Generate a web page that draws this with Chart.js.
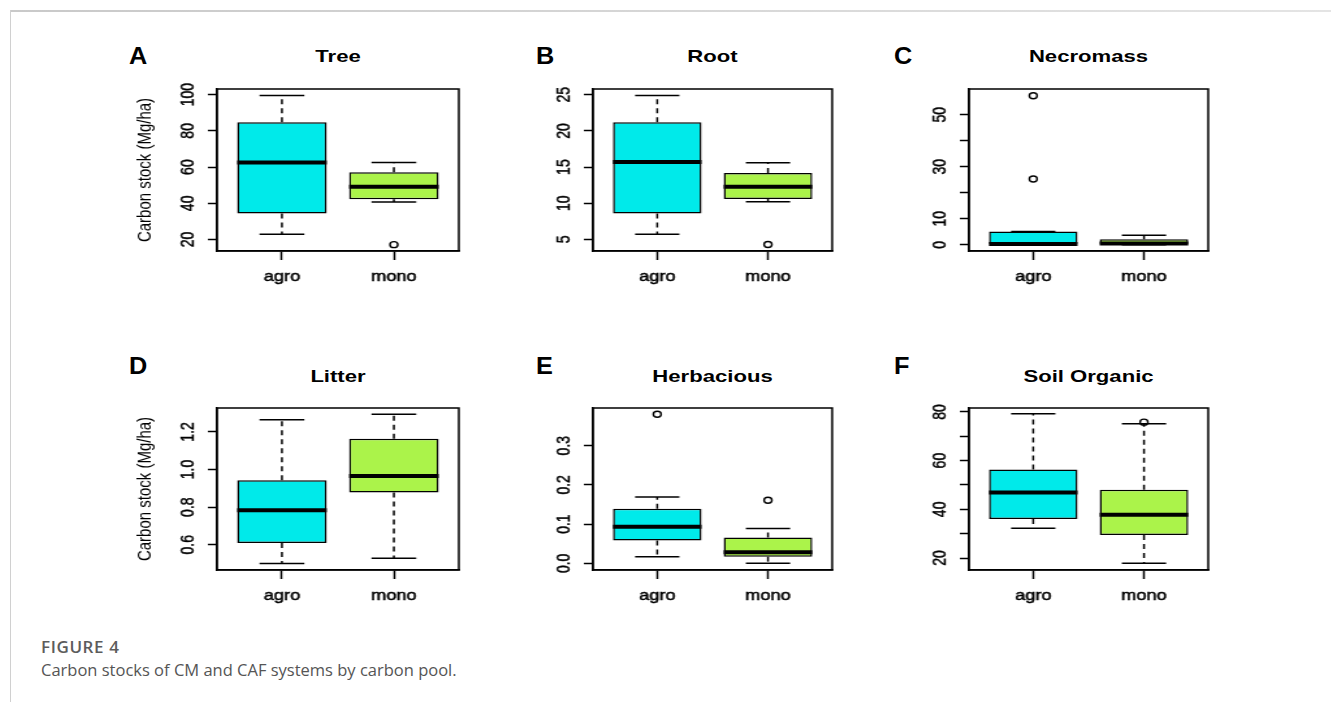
<!DOCTYPE html>
<html>
<head>
<meta charset="utf-8">
<script src="https://cdn.jsdelivr.net/npm/chart.js@4.4.1/dist/chart.umd.min.js"></script>
<style>
  body { margin: 0; background: #fff; width: 1331px; height: 702px; overflow: hidden; position: relative;
         font-family: "Liberation Sans", Arial, sans-serif; color: #000; }
  .frame-top { position: absolute; left: 10px; top: 10px; right: 0; height: 2px;
               background: linear-gradient(to right, #c9c9c9, #e4e4e4); }
  .frame-left { position: absolute; left: 10px; top: 10px; bottom: 0; width: 1px; background: #d0d0d0; }
  .panel { position: absolute; transform: scaleX(1.3); transform-origin: 0 0; }
  .title { position: absolute; text-align: center; font-weight: bold; font-size: 17px; line-height: 20px;
           transform: scaleX(1.3); }
  .letter { position: absolute; font-weight: bold; font-size: 23px; line-height: 22px;
            transform: scaleX(1.1); transform-origin: 0 0; }
  .cap-head { position: absolute; left: 41px; top: 635px; font-family: "Open Sans", sans-serif; font-weight: 600;
              font-size: 17px; letter-spacing: 0.6px; color: #5c5c5c; }
  .cap-text { position: absolute; left: 41px; top: 658px; font-family: "Open Sans", sans-serif;
              font-size: 16.5px; color: #555; }
</style>
</head>
<body>
<div class="frame-top"></div>
<div class="frame-left"></div>
<div class="cap-head">FIGURE 4</div>
<div class="cap-text">Carbon stocks of CM and CAF systems by carbon pool.</div>

<script>
const groups = ["agro", "mono"];
const letters = ["A", "B", "C", "D", "E", "F"];
const titles = ["Tree", "Root", "Necromass", "Litter", "Herbacious", "Soil Organic"];

// boxplot stats per panel: [agro, mono]
const whiskerLow = [[22.9, 40.7], [5.7, 10.2], [0, 0], [0.501, 0.529], [0.017, 0.0], [32.2, 17.9]];
const q1 = [[34.4, 42.3], [8.6, 10.6], [0, 0], [0.609, 0.878], [0.058, 0.017], [36.0, 29.5]];
const medians = [[62.5, 49.2], [15.7, 12.3], [0.3, 0.5], [0.784, 0.965], [0.093, 0.028], [46.9, 37.8]];
const q3 = [[84.8, 57.1], [21.2, 14.2], [5.1, 2.1], [0.943, 1.163], [0.139, 0.066], [56.4, 48.0]];
const whiskerHigh = [[99.5, 62.5], [24.9, 15.6], [5.1, 3.7], [1.264, 1.294], [0.169, 0.089], [79.2, 75.1]];
const outliers = [[[], [17.2]], [[], [4.3]], [[25.3, 57.3], []], [[], []], [[0.38], [0.161]], [[], [75.8]]];

const yMin = [13.7, 3.4, -2.4, 0.466, -0.017, 15.1];
const yMax = [103.1, 25.8, 59.9, 1.327, 0.396, 81.6];
const yTicks = [
  [20, 40, 60, 80, 100],
  [5, 10, 15, 20, 25],
  [0, 10, 20, 30, 40, 50],
  [0.6, 0.8, 1.0, 1.2],
  [0, 0.1, 0.2, 0.3],
  [20, 30, 40, 50, 60, 70, 80],
];
const yTickLabels = [
  ["20", "40", "60", "80", "100"],
  ["5", "10", "15", "20", "25"],
  ["0", "10", "", "30", "", "50"],
  ["0.6", "0.8", "1.0", "1.2"],
  ["0.0", "0.1", "0.2", "0.3"],
  ["20", "", "40", "", "60", "", "80"],
];
const boxColors = ["#00eaea", "#abf34a"];

// layout (screen px)
const STRETCH = 1.3;
const plotLeft = [217, 593, 969];
const plotWidth = [242, 239, 239];
const plotTop = [89, 408];
const plotHeight = 162;
const letterLeft = [129, 536, 894];
const letterTop = [45, 355];
const titleTop = [47, 367];

Chart.defaults.font.family = '"Liberation Sans", Arial, sans-serif';
Chart.defaults.color = "#000";

function line(ctx, x1, y1, x2, y2) {
  ctx.beginPath();
  ctx.moveTo(x1, y1);
  ctx.lineTo(x2, y2);
  ctx.stroke();
}

const boxPlugin = {
  id: "rbox",
  afterDatasetsDraw(chart) {
    const p = chart.options.plugins.rbox.panel;
    const { ctx, chartArea } = chart;
    const y = chart.scales.y;
    const bars = chart.getDatasetMeta(0).data;
    ctx.save();
    ctx.strokeStyle = "#000";
    bars.forEach((bar, i) => {
      const half = bar.width / 2;
      const lo = y.getPixelForValue(whiskerLow[p][i]);
      const hi = y.getPixelForValue(whiskerHigh[p][i]);
      const b1 = y.getPixelForValue(q1[p][i]);
      const b3 = y.getPixelForValue(q3[p][i]);
      const md = y.getPixelForValue(medians[p][i]);
      ctx.lineWidth = 1.5;
      ctx.setLineDash([5, 4]);
      if (hi < b3) line(ctx, bar.x, b3, bar.x, hi);
      if (lo > b1) line(ctx, bar.x, b1, bar.x, lo);
      ctx.setLineDash([]);
      line(ctx, bar.x - half / 2, hi, bar.x + half / 2, hi);
      line(ctx, bar.x - half / 2, lo, bar.x + half / 2, lo);
      ctx.lineWidth = 4;
      line(ctx, bar.x - half, md, bar.x + half, md);
    });
    ctx.lineWidth = 1.5;
    ctx.strokeRect(chartArea.left, chartArea.top, chartArea.width, chartArea.height);

    // R style tick labels, parallel to the axis
    ctx.fillStyle = "#000";
    ctx.lineWidth = 0.4;
    ctx.font = '14px "Liberation Sans", Arial, sans-serif';
    ctx.textAlign = "center";
    ctx.textBaseline = "middle";
    yTicks[p].forEach((v, i) => {
      if (!yTickLabels[p][i]) return;
      ctx.save();
      ctx.translate(chartArea.left - 22, y.getPixelForValue(v));
      ctx.rotate(-Math.PI / 2);
      ctx.fillText(yTickLabels[p][i], 0, 0);
      ctx.strokeText(yTickLabels[p][i], 0, 0);
      ctx.restore();
    });
    ctx.restore();
  },
};

function makePanel(p) {
  const col = p % 3;
  const row = Math.floor(p / 3);
  const pw = plotWidth[col];

  const wrap = document.createElement("div");
  wrap.className = "panel";
  wrap.style.left = plotLeft[col] - 91 + "px";
  wrap.style.top = plotTop[row] - 8 + "px";
  const canvas = document.createElement("canvas");
  canvas.width = Math.round((91 + pw + 13) / STRETCH);
  canvas.height = 8 + plotHeight + 45;
  wrap.appendChild(canvas);
  document.body.appendChild(wrap);

  const letter = document.createElement("div");
  letter.className = "letter";
  letter.textContent = letters[p];
  letter.style.left = letterLeft[col] + "px";
  letter.style.top = letterTop[row] + "px";
  document.body.appendChild(letter);

  const title = document.createElement("div");
  title.className = "title";
  title.textContent = titles[p];
  title.style.left = plotLeft[col] + "px";
  title.style.width = pw + "px";
  title.style.top = titleTop[row] + "px";
  document.body.appendChild(title);

  const outlierPoints = [];
  groups.forEach((g, i) => outliers[p][i].forEach((v) => outlierPoints.push({ x: i + 1, y: v })));

  new Chart(canvas, {
    type: "bar",
    data: {
      datasets: [
        {
          data: groups.map((g, i) => ({ x: i + 1, y: [q1[p][i], q3[p][i]] })),
          backgroundColor: boxColors,
          borderColor: "#000",
          borderWidth: 1.5,
          borderSkipped: false,
          categoryPercentage: 1,
          barPercentage: 0.8,
        },
        {
          type: "line",
          data: outlierPoints,
          showLine: false,
          pointRadius: 3,
          pointBorderWidth: 1.4,
          pointBackgroundColor: "rgba(0,0,0,0)",
          pointBorderColor: "#000",
        },
      ],
    },
    options: {
      responsive: false,
      animation: false,
      layout: { padding: { top: 8, right: 10, left: 0, bottom: 0 } },
      plugins: { legend: { display: false }, tooltip: { enabled: false }, rbox: { panel: p } },
      scales: {
        x: {
          type: "linear",
          min: 0.42,
          max: 2.58,
          offset: false,
          grid: { offset: false, drawOnChartArea: false, tickLength: 9, tickWidth: 1.5, tickColor: "#000" },
          border: { color: "#000", width: 1.5 },
          afterBuildTicks: (s) => { s.ticks = groups.map((g, i) => ({ value: i + 1 })); },
          afterFit: (s) => { s.height = 45; },
          ticks: {
            autoSkip: false, maxRotation: 0, padding: 9, font: { size: 14 },
            textStrokeColor: "#000", textStrokeWidth: 0.5,
            callback: (v) => groups[v - 1],
          },
        },
        y: {
          min: yMin[p],
          max: yMax[p],
          grid: { drawOnChartArea: false, tickLength: 7, tickWidth: 1.5, tickColor: "#000" },
          border: { color: "#000", width: 1.5 },
          afterBuildTicks: (s) => { s.ticks = yTicks[p].map((v) => ({ value: v })); },
          afterFit: (s) => { s.width = 70; },
          ticks: { display: false },
          title: { display: col === 0, text: "Carbon stock (Mg/ha)", font: { size: 15 }, padding: { top: 6 } },
        },
      },
    },
    plugins: [boxPlugin],
  });
}

for (let p = 0; p < 6; p++) makePanel(p);
</script>
</body>
</html>
